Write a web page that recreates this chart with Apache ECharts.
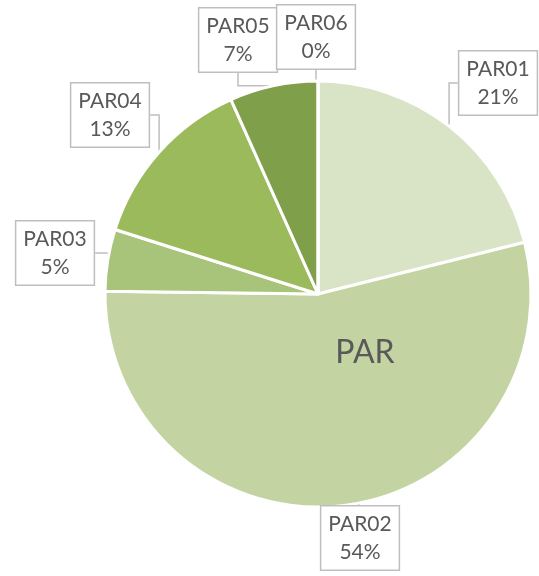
<!DOCTYPE html>
<html>
<head>
<meta charset="utf-8">
<script src="https://cdn.jsdelivr.net/npm/echarts@6/dist/echarts.min.js"></script>
<style>
  html, body { margin: 0; padding: 0; background: #fff; }
  #pie { width: 539px; height: 576px; }
</style>
</head>
<body>
<div id="pie"></div>
<script>
    // data
    var names = ['PAR01', 'PAR02', 'PAR03', 'PAR04', 'PAR05', 'PAR06'];
    var values = [21.1, 54.1, 4.7, 13.4, 6.7, 0];
    var colors = ['#d8e4c5', '#c3d4a2', '#a8c47a', '#9aba5c', '#7f9f4a', '#6b8a3a'];
    var centerText = 'PAR';

    // where the callout boxes sit (box centre, px)
    var labelPos = [[498, 83], [360, 538], [55, 253], [110, 115], [238, 40], [316, 37]];

    var chartDom = document.getElementById('pie');
    var myChart = echarts.init(chartDom);

    var pieData = names.map(function (n, i) {
        return { name: n, value: values[i], itemStyle: { color: colors[i] } };
    });

    // wider series box so the edge labels are not squeezed
    var pad = 300;

    var option = {
        animation: false,
        textStyle: { fontFamily: 'Lato' },
        graphic: [
            {
                type: 'text',
                z: 100,
                x: 365,
                y: 353,
                style: {
                    text: centerText,
                    fontFamily: 'Lato',
                    fontSize: 32,
                    fill: '#595959',
                    align: 'center',
                    verticalAlign: 'middle'
                }
            }
        ],
        series: [
            {
                type: 'pie',
                left: -pad,
                top: 0,
                width: 539 + 2 * pad,
                height: 576,
                center: [318 + pad, 294],
                radius: 213,
                startAngle: 90,
                clockwise: true,
                itemStyle: {
                    borderColor: '#fff',
                    borderWidth: 3
                },
                label: {
                    show: true,
                    formatter: function (p) {
                        return p.name + '\n' + Math.round(p.percent) + '%';
                    },
                    overflow: 'none',
                    fontFamily: 'Lato',
                    fontSize: 21,
                    lineHeight: 28,
                    color: '#595959',
                    align: 'center',
                    backgroundColor: '#fff',
                    borderColor: '#bfbfbf',
                    borderWidth: 1.5,
                    padding: [4, 7, 3, 7]
                },
                labelLine: {
                    show: true,
                    lineStyle: { color: '#bfbfbf', width: 1.5 }
                },
                labelLayout: function (params) {
                    var p = labelPos[params.dataIndex];
                    return {
                        x: p[0],
                        y: p[1],
                        align: 'center',
                        verticalAlign: 'middle'
                    };
                },
                emphasis: { disabled: true },
                data: pieData
            }
        ]
    };
    myChart.setOption(option);
</script>
</body>
</html>
